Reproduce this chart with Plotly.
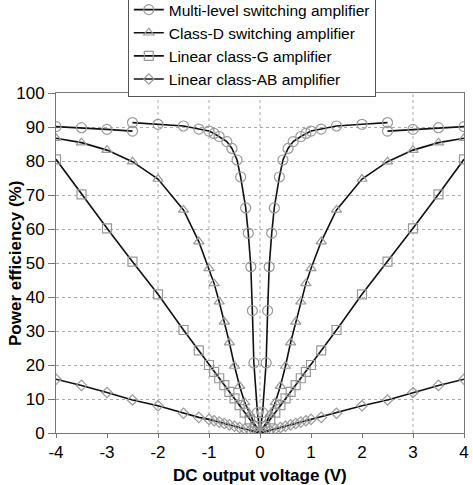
import plotly.graph_objects as go

# ---- data ----
ml_x = [-4, -3.5, -3, -2.5, None, -2.5, -2, -1.5, -1.2, -1.0, -0.9, -0.8, -0.65, -0.55, -0.45, -0.38, -0.28, -0.23, -0.18, -0.15, -0.12, -0.05, 0,
        0.05, 0.12, 0.15, 0.18, 0.23, 0.28, 0.38, 0.45, 0.55, 0.65, 0.8, 0.9, 1.0, 1.2, 1.5, 2.0, 2.5, None, 2.5, 3, 3.5, 4]
ml_y = [90.1, 89.8, 89.3, 88.8, None, 91.3, 90.8, 90.3, 89.4, 88.8, 88.1, 87.2, 85.7, 83.7, 80.3, 75.3, 66.2, 58.8, 48.9, 36, 20.6, 6, 0,
        6, 20.6, 36, 48.9, 58.8, 66.2, 75.3, 80.3, 83.7, 85.7, 87.2, 88.1, 88.8, 89.4, 90.3, 90.8, 91.3, None, 88.8, 89.3, 89.8, 90.1]

cd_x = [-4, -3.5, -3, -2.5, -2, -1.5, -1.2, -1.0, -0.9, -0.8, -0.7, -0.6, -0.5, -0.4, -0.3, -0.2, -0.1, 0,
        0.1, 0.2, 0.3, 0.4, 0.5, 0.6, 0.7, 0.8, 0.9, 1.0, 1.2, 1.5, 2, 2.5, 3, 3.5, 4]
cd_y = [86.7, 85.4, 83.2, 79.8, 74.7, 65.6, 56.3, 48.4, 44, 38.6, 32.7, 26.6, 19.7, 13.8, 9, 5.5, 2.5, 0,
        2.5, 5.5, 9, 13.8, 19.7, 26.6, 32.7, 38.6, 44, 48.4, 56.3, 65.6, 74.7, 79.8, 83.2, 85.4, 86.7]

cg_x = [-4, -3.5, -3, -2.5, -2, -1.5, -1.2, -1.0, -0.9, -0.8, -0.7, -0.6, -0.5, -0.4, -0.3, -0.2, -0.1, 0,
        0.1, 0.2, 0.3, 0.4, 0.5, 0.6, 0.7, 0.8, 0.9, 1.0, 1.2, 1.5, 2, 2.5, 3, 3.5, 4]
cg_y = [80.5, 70.2, 60.2, 50.4, 40.8, 30.3, 24.3, 20, 18, 16.1, 14.1, 12.1, 10.2, 8.2, 6, 4, 2, 0,
        2, 4, 6, 8.2, 10.2, 12.1, 14.1, 16.1, 18, 20, 24.3, 30.3, 40.8, 50.4, 60.2, 70.2, 80.5]

ab_x = [-4, -3.5, -3, -2.5, -2, -1.5, -1.2, -1.0, -0.9, -0.8, -0.7, -0.6, -0.5, -0.4, -0.3, -0.2, -0.1, 0,
        0.1, 0.2, 0.3, 0.4, 0.5, 0.6, 0.7, 0.8, 0.9, 1.0, 1.2, 1.5, 2, 2.5, 3, 3.5, 4]
ab_y = [15.8, 14, 11.9, 9.7, 8, 5.8, 4.6, 4.0, 3.6, 3.2, 2.8, 2.4, 2.0, 1.6, 1.2, 0.8, 0.4, 0,
        0.4, 0.8, 1.2, 1.6, 2.0, 2.4, 2.8, 3.2, 3.6, 4.0, 4.6, 5.8, 8, 9.7, 11.9, 14, 15.8]

names = ["Multi-level switching amplifier", "Class-D switching amplifier",
         "Linear class-G amplifier", "Linear class-AB amplifier"]
symbols = ["circle-open", "triangle-up-open", "square-open", "diamond-open"]
sizes = [10, 9, 9, 8]

x_ticks = [-4, -3, -2, -1, 0, 1, 2, 3, 4]
y_ticks = [0, 10, 20, 30, 40, 50, 60, 70, 80, 90, 100]
grid_x = [-2, -1, 0, 3]
x_title = "DC output voltage (V)"
y_title = "Power efficiency (%)"

fig = go.Figure()
for nm, xs, ys, sym, sz in zip(names, [ml_x, cd_x, cg_x, ab_x], [ml_y, cd_y, cg_y, ab_y], symbols, sizes):
    fig.add_trace(go.Scatter(
        x=xs, y=ys, name=nm, mode="lines+markers",
        line=dict(color="#111111", width=1.6),
        marker=dict(symbol=sym, size=sz, color="#999999", line=dict(width=1.2, color="#999999")),
        connectgaps=False,
    ))

for gx in grid_x:
    fig.add_shape(type="line", xref="x", yref="paper", x0=gx, x1=gx, y0=0, y1=1,
                  line=dict(color="#aaaaaa", width=1, dash="dot"), layer="below")

font_family = "Liberation Sans, Arial, sans-serif"
fig.add_annotation(text="<b>" + x_title + "</b>", xref="paper", yref="paper", x=0.5, y=-0.126,
                   xanchor="center", yanchor="middle", showarrow=False, font=dict(size=17))
fig.add_annotation(text="<b>" + y_title + "</b>", xref="paper", yref="paper", x=-0.1005, y=0.5,
                   xanchor="center", yanchor="middle", textangle=-90, showarrow=False, font=dict(size=17))

fig.update_layout(
    width=473, height=485,
    margin=dict(l=56, r=9, t=93, b=52, autoexpand=False),
    paper_bgcolor="white", plot_bgcolor="white",
    font=dict(family=font_family, color="black"),
    showlegend=True,
    legend=dict(x=0.176, y=1.297, xanchor="left", yanchor="top",
                bordercolor="#555555", borderwidth=1, bgcolor="white",
                font=dict(size=15.5, family=font_family), tracegroupgap=0,
                itemwidth=30),
    xaxis=dict(range=[-4, 4], tickvals=x_ticks, ticktext=[str(v) for v in x_ticks],
               showgrid=False, zeroline=False, showline=True, linecolor="#777777",
               mirror=True, ticks="outside", ticklen=4, tickcolor="#777777", tickfont=dict(size=17),
               automargin=False),
    yaxis=dict(range=[0, 100], tickvals=y_ticks,
               showgrid=True, gridcolor="#aaaaaa", griddash="dot", gridwidth=1,
               zeroline=False, showline=True, linecolor="#777777", mirror=True,
               ticks="outside", ticklen=7, tickcolor="#777777", tickfont=dict(size=17),
               automargin=False),
)

fig.write_html("out.html")
